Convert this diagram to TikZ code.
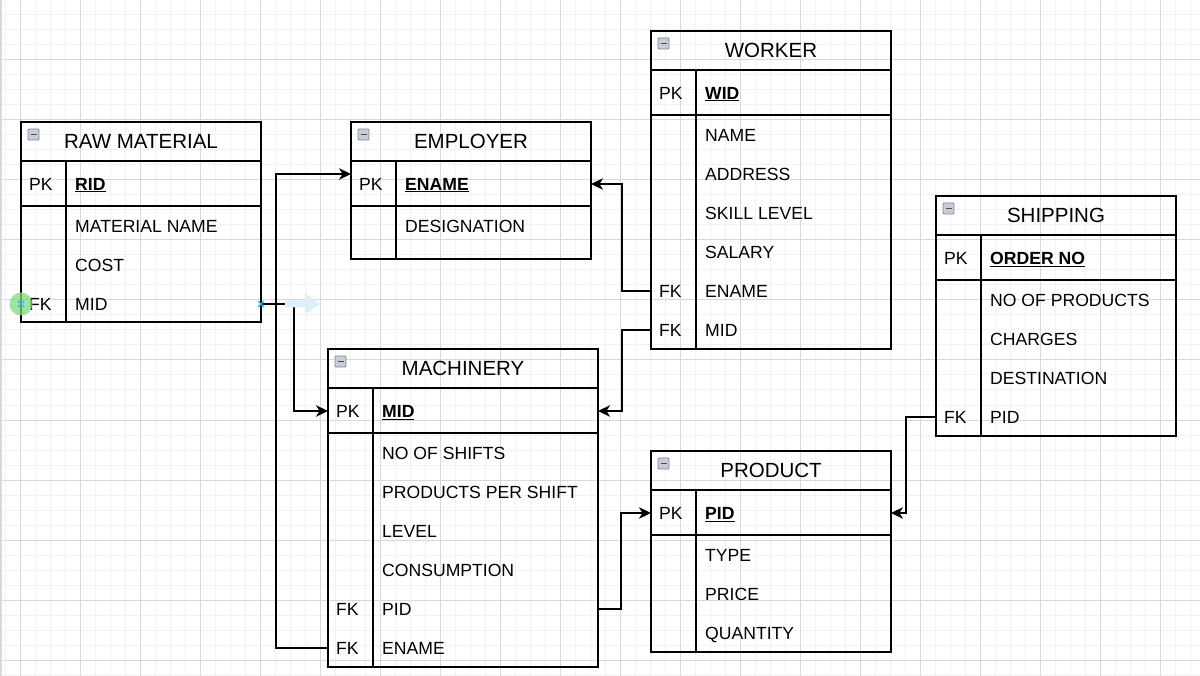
\documentclass[tikz,border=0pt]{standalone}
\usepackage{fontspec}
\setmainfont{Liberation Sans}
\usetikzlibrary{arrows.meta,calc}
\definecolor{gridminor}{HTML}{F2F2F2}
\definecolor{gridmajor}{HTML}{D9D9D9}
\definecolor{selblue}{HTML}{29B6F2}
\definecolor{hintblue}{HTML}{DCEFFC}
\definecolor{hovergreen}{HTML}{7EDB7E}
\definecolor{iconfill}{HTML}{C9CED6}
\definecolor{iconedge}{HTML}{7D8794}

\newcommand{\ertbl}[6]{% name, x, y, w, h, title
  \node[tbl,minimum width=#4pt,minimum height=#5pt] (#1) at (#2,#3) {};
  \draw[sep] ([yshift=-39pt]#1.north west) -- ([yshift=-39pt]#1.north east);
  \draw[sep] ([yshift=-84pt]#1.north west) -- ([yshift=-84pt]#1.north east);
  \draw[sep] ([shift={(45pt,-39pt)}]#1.north west) -- ([xshift=45pt]#1.south west);
  \draw[icon] ([shift={(7pt,-7pt)}]#1.north west) rectangle ++(11,11);
  \draw[line width=1.1pt,black!70] ([shift={(9.5pt,-12.5pt)}]#1.north west) -- ++(6,0);
  \node[ttl] (#1-title) at ([yshift=-19.5pt]#1.north) {#6};
}
\newcommand{\errow}[5]{% name, table x, y center, key, text
  \node[attr] (#1) at (#2+54,#3) {#5};
  \node[attr] (#1-k) at (#2+8,#3) {#4};
}
\newcommand{\pkname}[1]{\textbf{\underline{#1}}}

\begin{document}
\begin{tikzpicture}[x=1pt,y=-1pt,
  tbl/.style={draw=black,line width=1.25pt,inner sep=0pt,outer sep=0pt,anchor=north west},
  sep/.style={line width=1.25pt},
  ttl/.style={font=\fontsize{20.5}{24}\selectfont,inner sep=0pt},
  attr/.style={font=\fontsize{17.6}{21}\selectfont,inner sep=0pt,anchor=west,text height=12.6pt,text depth=0pt},
  icon/.style={fill=iconfill,draw=iconedge,line width=0.8pt,rounded corners=1pt},
  conn/.style={line width=1.3pt,-{Stealth[length=12pt,width=11.5pt,inset=3.5pt]}},
  minorline/.style={gridminor,line width=1pt},
  majorline/.style={gridmajor,line width=1pt}
]
\useasboundingbox (0,0) rectangle (1200,676);
\fill[white] (0,0) rectangle (1200,676);
% grid
\foreach \x in {5,20,...,1200} \draw[minorline] (\x,0) -- (\x,676);
\foreach \y in {0,15,...,676} \draw[minorline] (0,\y) -- (1200,\y);
\foreach \x in {20,80,...,1200} \draw[majorline] (\x,0) -- (\x,676);
\foreach \y in {0,60,...,676} \draw[majorline] (0,\y) -- (1200,\y);
\draw[gridmajor,line width=2pt] (1,0) -- (1,676);

% RAW MATERIAL
\ertbl{raw}{21}{122}{240}{200}{RAW MATERIAL}
\errow{rawpk}{21}{184}{PK}{\pkname{RID}}
\errow{rawname}{21}{226}{}{MATERIAL NAME}
\errow{rawcost}{21}{265}{}{COST}
\errow{rawmid}{21}{304}{FK}{MID}

% EMPLOYER
\ertbl{emp}{351}{122}{240}{137}{EMPLOYER}
\errow{emppk}{351}{184}{PK}{\pkname{ENAME}}
\errow{empdes}{351}{226}{}{DESIGNATION}

% WORKER
\ertbl{wk}{651}{31}{240}{318}{WORKER}
\errow{wkpk}{651}{93}{PK}{\pkname{WID}}
\errow{wkname}{651}{135}{}{NAME}
\errow{wkaddr}{651}{174}{}{ADDRESS}
\errow{wkskill}{651}{213}{}{SKILL LEVEL}
\errow{wksal}{651}{252}{}{SALARY}
\errow{wkename}{651}{291}{FK}{ENAME}
\errow{wkmid}{651}{330}{FK}{MID}

% SHIPPING
\ertbl{ship}{936}{196}{240}{240}{SHIPPING}
\errow{shippk}{936}{258}{PK}{\pkname{ORDER NO}}
\errow{shipnop}{936}{300}{}{NO OF PRODUCTS}
\errow{shipchg}{936}{339}{}{CHARGES}
\errow{shipdest}{936}{378}{}{DESTINATION}
\errow{shippid}{936}{417}{FK}{PID}

% MACHINERY
\ertbl{mach}{328}{349}{270}{318}{MACHINERY}
\errow{machpk}{328}{411}{PK}{\pkname{MID}}
\errow{machshift}{328}{453}{}{NO OF SHIFTS}
\errow{machpps}{328}{492}{}{PRODUCTS PER SHIFT}
\errow{machlvl}{328}{531}{}{LEVEL}
\errow{machcons}{328}{570}{}{CONSUMPTION}
\errow{machpid}{328}{609}{FK}{PID}
\errow{machename}{328}{648}{FK}{ENAME}

% PRODUCT
\ertbl{prod}{651}{451}{240}{201}{PRODUCT}
\errow{prodpk}{651}{513}{PK}{\pkname{PID}}
\errow{prodtype}{651}{555}{}{TYPE}
\errow{prodprice}{651}{594}{}{PRICE}
\errow{prodqty}{651}{633}{}{QUANTITY}

% connectors
\draw[conn] (machename -| mach.west) -- ++(-52,0) |- ([yshift=10pt]emppk.center -| emp.west);
\draw[conn] (rawmid -| raw.east) -- ++(33,0) |- (machpk -| mach.west);
\draw[conn] (wkename -| wk.west) -- ++(-29,0) |- (emppk -| emp.east);
\draw[conn] (wkmid -| wk.west) -- ++(-29,0) |- (machpk -| mach.east);
\draw[conn] (machpid -| mach.east) -- ++(23,0) |- (prodpk -| prod.west);
\draw[conn] (shippid -| ship.west) -- ++(-30,0) |- (prodpk -| prod.east);

% editor hints
\fill[hovergreen,opacity=0.75] (rawmid -| raw.west) circle (11.5);
\fill[hintblue] ($(rawmid -| raw.east)+(24,-3.5)$) -- ++(20,0) -- ++(0,-7) -- ++(15,10.5) -- ++(-15,10.5) -- ++(0,-7) -- ++(-20,0) -- cycle;
\draw[selblue,line width=1.3pt] ($(rawmid -| raw.west)+(-3,-3)$) -- ++(6,6) ($(rawmid -| raw.west)+(-3,3)$) -- ++(6,-6);
\draw[selblue,line width=1.3pt] ($(rawmid -| raw.east)+(-3,-3)$) -- ++(6,6) ($(rawmid -| raw.east)+(-3,3)$) -- ++(6,-6);
\end{tikzpicture}
\end{document}
